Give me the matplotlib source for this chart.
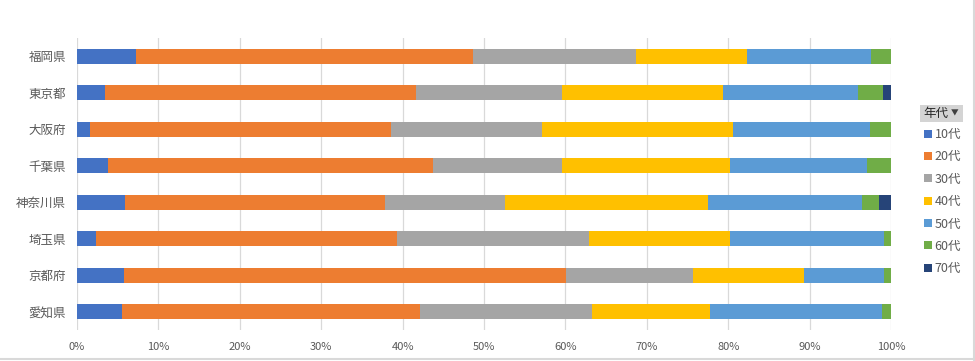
import matplotlib.pyplot as plt
from matplotlib.patches import Patch, Rectangle
from matplotlib.lines import Line2D
from matplotlib.ticker import PercentFormatter

plt.rcParams['font.family'] = ['Noto Sans CJK JP', 'DejaVu Sans']

prefs = ['福岡県', '東京都', '大阪府', '千葉県', '神奈川県', '埼玉県', '京都府', '愛知県']
ages = ['10代', '20代', '30代', '40代', '50代', '60代', '70代']
colors = ['#4472C4', '#ED7D31', '#A5A5A5', '#FFC000', '#5B9BD5', '#70AD47', '#264478']

# 各年代の割合 (%)
age10 = [7.2, 3.4, 1.6, 3.8, 5.9, 2.3, 5.8, 5.5]
age20 = [41.4, 38.2, 37.0, 39.9, 31.9, 37.0, 54.3, 36.6]
age30 = [20.1, 18.0, 18.5, 15.9, 14.8, 23.6, 15.6, 21.2]
age40 = [13.6, 19.8, 23.5, 20.6, 24.9, 17.3, 13.6, 14.5]
age50 = [15.3, 16.5, 16.8, 16.9, 18.9, 18.9, 9.8, 21.1]
age60 = [2.4, 3.1, 2.6, 2.9, 2.1, 0.9, 0.9, 1.1]
age70 = [0.0, 1.0, 0.0, 0.0, 1.5, 0.0, 0.0, 0.0]
series = [age10, age20, age30, age40, age50, age60, age70]

fig = plt.figure(figsize=(9.75, 3.61), dpi=100)
ax = fig.add_axes([77 / 975, 1 - 330 / 361, 814 / 975, 292 / 361])

left = [0.0] * len(prefs)
for vals, c, name in zip(series, colors, ages):
    ax.barh(range(len(prefs)), vals, left=left, height=0.41, color=c, label=name, zorder=2)
    left = [l + v for l, v in zip(left, vals)]

ax.set_xlim(0, 100)
ax.set_ylim(len(prefs) - 0.5, -0.5)
ax.set_xticks(range(0, 101, 10))
ax.xaxis.set_major_formatter(PercentFormatter(decimals=0))
ax.set_yticks(range(len(prefs)))
ax.set_yticklabels(prefs)
ax.grid(axis='x', color='#d9d9d9', linewidth=0.9, zorder=0)
for s in ax.spines.values():
    s.set_visible(False)
ax.tick_params(axis='x', length=0, pad=9, labelsize=8, labelcolor='#595959')
ax.tick_params(axis='y', length=0, pad=8, labelsize=9, labelcolor='#595959')

# 凡例
handles = [Patch(facecolor=c, edgecolor='none') for c in colors]
fig.legend(handles, ages, loc='upper left', bbox_to_anchor=(924 / 975, 1 - 128 / 361),
           frameon=False, fontsize=9, labelcolor='#595959', handlelength=0.6, handleheight=0.6,
           handletextpad=0.25, labelspacing=0.75, borderaxespad=0, borderpad=0)
fig.add_artist(Rectangle((920 / 975, 1 - 122 / 361), 43 / 975, 17 / 361,
                         transform=fig.transFigure, facecolor='#d4d4d4', edgecolor='none'))
fig.text(923 / 975, 1 - 113.5 / 361, '年代', fontsize=9, va='center', ha='left', color='#262626')
fig.text(955 / 975, 1 - 113.5 / 361, '▼', fontsize=5.5, va='center', ha='center', color='#404040')

# 枠線
fig.add_artist(Line2D([974 / 975, 974 / 975], [0, 1], color='#d9d9d9', linewidth=1.5))
fig.add_artist(Line2D([0, 1], [2 / 361, 2 / 361], color='#d9d9d9', linewidth=1.5))

plt.savefig('out.png', dpi=100)
